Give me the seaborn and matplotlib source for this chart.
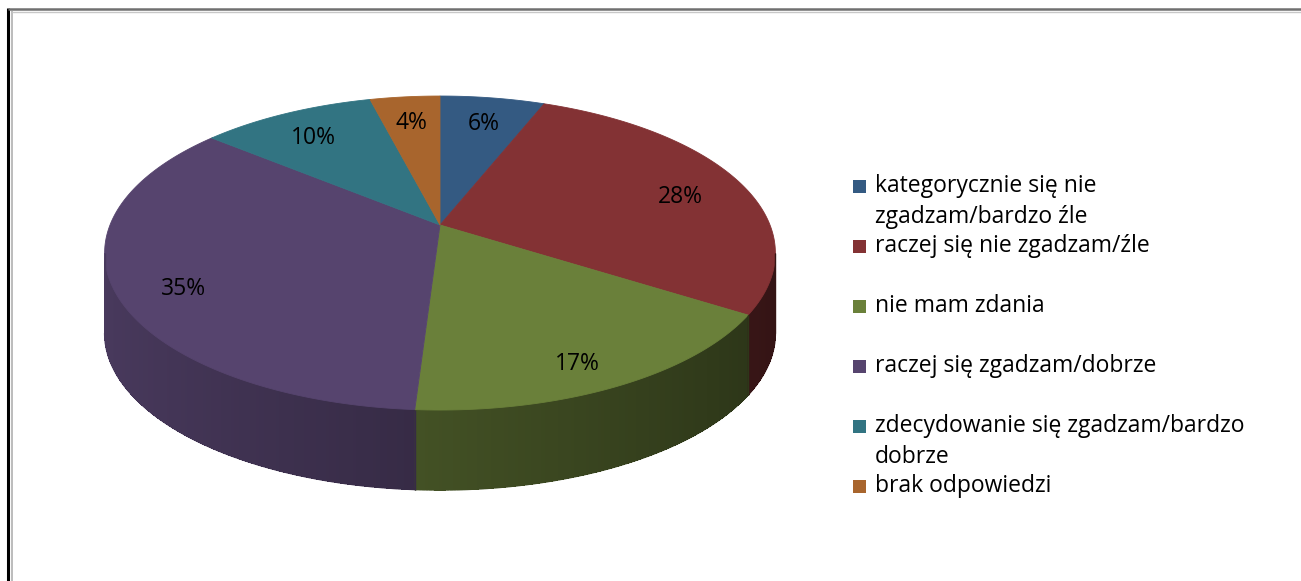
import numpy as np
import matplotlib
matplotlib.use("Agg")
import matplotlib.pyplot as plt
from matplotlib.collections import PolyCollection, LineCollection
from matplotlib.patches import Polygon, Rectangle
import seaborn as sns

# -----------------------------------------
# DATA
# -----------------------------------------
labels = [
    "kategorycznie się nie\nzgadzam/bardzo źle",
    "raczej się nie zgadzam/źle",
    "nie mam zdania",
    "raczej się zgadzam/dobrze",
    "zdecydowanie się zgadzam/bardzo\ndobrze",
    "brak odpowiedzi",
]
values = [6, 28, 17, 35, 10, 4]
colors = ["#345a82", "#833234", "#6a803a", "#56446e", "#327482", "#a8652d"]

# -----------------------------------------
# STYLE
# -----------------------------------------
sns.set_theme(style="white")
plt.rcParams["font.family"] = ["Open Sans", "DejaVu Sans"]

W, H = 1301, 581
fig = plt.figure(figsize=(W / 100, H / 100), dpi=100)
ax = fig.add_axes([0, 0, 1, 1])
ax.set_xlim(0, W)
ax.set_ylim(H, 0)
ax.axis("off")

# 3D pie geometry (pixel space, perspective tilt)
cx, cy = 440, 225
a, b, k = 330, 152, 0.1785
depth = 80


def proj(theta, r=1.0, h=0.0):
    X = r * np.cos(theta)
    Z = r * np.sin(theta)
    d = 1 + k * Z
    return cx + a * X / d, cy - b * Z / d + h


def shade(c, f):
    rgb = np.array(matplotlib.colors.to_rgb(c))
    return tuple(np.clip(rgb * f, 0, 1))


# slice angles (deg), clockwise from top
total = sum(values)
starts, ends = [], []
cur = 90.0
for v in values:
    starts.append(cur)
    cur -= v / total * 360
    ends.append(cur)

# -----------------------------------------
# SIDE WALLS (front, visible part only)
# -----------------------------------------
vis_lo = -180 + np.degrees(np.arcsin(k))
vis_hi = -np.degrees(np.arcsin(k))

polys, fcs, segs, scs = [], [], [], []
for s, e, c in zip(starts, ends, colors):
    lo, hi = max(e, vis_lo), min(s, vis_hi)
    if lo >= hi:
        continue
    th = np.radians(np.linspace(lo, hi, int((hi - lo) * 2) + 2))
    for t0, t1 in zip(th[:-1], th[1:]):
        x0, y0 = proj(t0)
        x1, y1 = proj(t1)
        polys.append([(x0, y0), (x1, y1), (x1, y1 + depth), (x0, y0 + depth)])
        col = shade(c, 0.62 - 0.23 * np.cos(0.5 * (t0 + t1)))
        fcs.append(col)
        segs.append([(x0, y0 + depth), (x1, y1 + depth)])
        scs.append(col)
    # silhouette / boundary edges of this wall
    for t in (np.radians(lo), np.radians(hi)):
        x0, y0 = proj(t)
        segs.append([(x0, y0), (x0, y0 + depth)])
        scs.append(shade(c, 0.62 - 0.23 * np.cos(t)))

ax.add_collection(PolyCollection(polys, facecolors=fcs, edgecolors="none",
                                 linewidths=0, antialiaseds=False))
ax.add_collection(LineCollection(segs, colors=scs, linewidths=1.0))

# -----------------------------------------
# TOP FACES
# -----------------------------------------
for s, e, c in zip(starts, ends, colors):
    th = np.radians(np.linspace(s, e, 200))
    xs, ys = proj(th)
    pts = [(cx, cy)] + list(zip(xs, ys))
    ax.add_patch(Polygon(pts, closed=True, facecolor=c, edgecolor=c, linewidth=0.6))

# percentage labels
for s, e, v in zip(starts, ends, values):
    mid = np.radians(0.5 * (s + e))
    lx, ly = proj(mid, r=0.8)
    ly += 10 - 6 * np.sin(mid)
    ax.text(lx, ly, f"{v}%", ha="center", va="center", fontsize=16.5, color="black")

# -----------------------------------------
# LEGEND
# -----------------------------------------
for i, (lab, c) in enumerate(zip(labels, colors)):
    yc = 186 + 60 * i
    ax.add_patch(Rectangle((853, yc - 6.5), 13, 13, facecolor=c, edgecolor="none"))
    for j, line in enumerate(lab.split("\n")):
        ax.text(875, yc + 31 * j, line, ha="left", va="center", fontsize=16.5, color="black")

# -----------------------------------------
# FRAME
# -----------------------------------------
ax.plot([8, 8], [8, H], color="black", lw=2.2, solid_capstyle="butt")
ax.plot([8, W], [8.5, 8.5], color="#707070", lw=1.8, solid_capstyle="butt")
ax.plot([12, 12], [11, H], color="#b0b0b0", lw=1.2, solid_capstyle="butt")
ax.plot([12, W], [11.5, 11.5], color="#c8c8c8", lw=1.0, solid_capstyle="butt")

fig.savefig("out.png", dpi=100)
